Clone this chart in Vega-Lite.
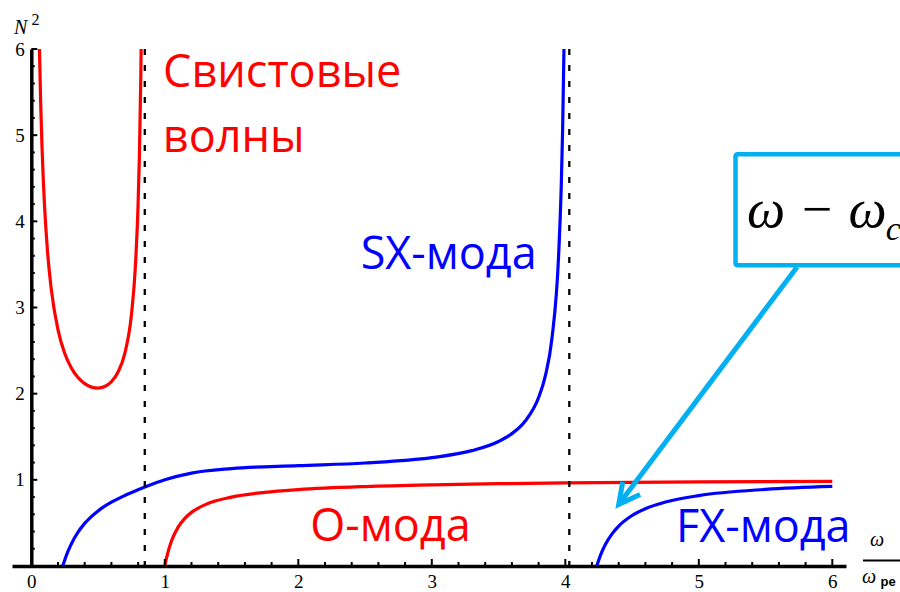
{
  "$schema": "https://vega.github.io/schema/vega-lite/v6.json",
  "width": 834,
  "height": 517,
  "autosize": {"type": "none"},
  "padding": {"left": 12, "top": 49, "right": 54, "bottom": 26},
  "background": "white",
  "config": {
    "view": {"stroke": null},
    "axis": {
      "grid": false,
      "ticks": false,
      "domainColor": "black",
      "domainWidth": 3.5,
      "labelFont": "Liberation Serif",
      "labelFontSize": 19,
      "labelColor": "black",
      "labelOverlap": false,
      "labelFlush": false,
      "title": null
    }
  },
  "datasets": {
    "curves": [
      {"mode": "W", "w": 0.058, "n2": 6.24},
      {"mode": "W", "w": 0.06, "n2": 6.07},
      {"mode": "W", "w": 0.07, "n2": 5.387},
      {"mode": "W", "w": 0.08, "n2": 4.874},
      {"mode": "W", "w": 0.09, "n2": 4.475},
      {"mode": "W", "w": 0.1, "n2": 4.157},
      {"mode": "W", "w": 0.12, "n2": 3.68},
      {"mode": "W", "w": 0.15, "n2": 3.207},
      {"mode": "W", "w": 0.2, "n2": 2.741},
      {"mode": "W", "w": 0.25, "n2": 2.47},
      {"mode": "W", "w": 0.3, "n2": 2.299},
      {"mode": "W", "w": 0.35, "n2": 2.187},
      {"mode": "W", "w": 0.4, "n2": 2.116},
      {"mode": "W", "w": 0.45, "n2": 2.076},
      {"mode": "W", "w": 0.5, "n2": 2.065},
      {"mode": "W", "w": 0.55, "n2": 2.083},
      {"mode": "W", "w": 0.6, "n2": 2.138},
      {"mode": "W", "w": 0.65, "n2": 2.251},
      {"mode": "W", "w": 0.7, "n2": 2.465},
      {"mode": "W", "w": 0.75, "n2": 2.917},
      {"mode": "W", "w": 0.78, "n2": 3.486},
      {"mode": "W", "w": 0.8, "n2": 4.201},
      {"mode": "W", "w": 0.81, "n2": 4.78},
      {"mode": "W", "w": 0.82, "n2": 5.66},
      {"mode": "W", "w": 0.825, "n2": 6.3},
      {"mode": "SX", "w": 0.2361, "n2": 0},
      {"mode": "SX", "w": 0.24, "n2": 0.0198},
      {"mode": "SX", "w": 0.25, "n2": 0.0672},
      {"mode": "SX", "w": 0.27, "n2": 0.1515},
      {"mode": "SX", "w": 0.3, "n2": 0.2568},
      {"mode": "SX", "w": 0.35, "n2": 0.3924},
      {"mode": "SX", "w": 0.4, "n2": 0.4944},
      {"mode": "SX", "w": 0.5, "n2": 0.6393},
      {"mode": "SX", "w": 0.6, "n2": 0.74},
      {"mode": "SX", "w": 0.7, "n2": 0.818},
      {"mode": "SX", "w": 0.8, "n2": 0.885},
      {"mode": "SX", "w": 0.9, "n2": 0.9457},
      {"mode": "SX", "w": 1.0, "n2": 1.0},
      {"mode": "SX", "w": 1.2, "n2": 1.0778},
      {"mode": "SX", "w": 1.5, "n2": 1.1304},
      {"mode": "SX", "w": 2.0, "n2": 1.1642},
      {"mode": "SX", "w": 2.5, "n2": 1.1956},
      {"mode": "SX", "w": 3.0, "n2": 1.2575},
      {"mode": "SX", "w": 3.3, "n2": 1.3385},
      {"mode": "SX", "w": 3.5, "n2": 1.4452},
      {"mode": "SX", "w": 3.6, "n2": 1.5362},
      {"mode": "SX", "w": 3.7, "n2": 1.6825},
      {"mode": "SX", "w": 3.8, "n2": 1.9554},
      {"mode": "SX", "w": 3.85, "n2": 2.204},
      {"mode": "SX", "w": 3.9, "n2": 2.641},
      {"mode": "SX", "w": 3.95, "n2": 3.607},
      {"mode": "SX", "w": 3.97, "n2": 4.426},
      {"mode": "SX", "w": 3.98, "n2": 5.069},
      {"mode": "SX", "w": 3.99, "n2": 6.01},
      {"mode": "O", "w": 1.0, "n2": 0},
      {"mode": "O", "w": 1.01, "n2": 0.0744},
      {"mode": "O", "w": 1.02, "n2": 0.139},
      {"mode": "O", "w": 1.05, "n2": 0.2897},
      {"mode": "O", "w": 1.1, "n2": 0.4517},
      {"mode": "O", "w": 1.15, "n2": 0.5533},
      {"mode": "O", "w": 1.2, "n2": 0.6224},
      {"mode": "O", "w": 1.3, "n2": 0.7098},
      {"mode": "O", "w": 1.5, "n2": 0.7989},
      {"mode": "O", "w": 1.75, "n2": 0.8539},
      {"mode": "O", "w": 2.0, "n2": 0.8858},
      {"mode": "O", "w": 2.5, "n2": 0.9222},
      {"mode": "O", "w": 3.0, "n2": 0.9425},
      {"mode": "O", "w": 3.5, "n2": 0.9553},
      {"mode": "O", "w": 4.0, "n2": 0.9641},
      {"mode": "O", "w": 4.5, "n2": 0.9705},
      {"mode": "O", "w": 5.0, "n2": 0.9752},
      {"mode": "O", "w": 6.0, "n2": 0.9818},
      {"mode": "FX", "w": 4.2361, "n2": 0},
      {"mode": "FX", "w": 4.25, "n2": 0.0666},
      {"mode": "FX", "w": 4.27, "n2": 0.1486},
      {"mode": "FX", "w": 4.3, "n2": 0.2485},
      {"mode": "FX", "w": 4.35, "n2": 0.373},
      {"mode": "FX", "w": 4.4, "n2": 0.4635},
      {"mode": "FX", "w": 4.5, "n2": 0.5861},
      {"mode": "FX", "w": 4.6, "n2": 0.6654},
      {"mode": "FX", "w": 4.75, "n2": 0.7424},
      {"mode": "FX", "w": 5.0, "n2": 0.8172},
      {"mode": "FX", "w": 5.5, "n2": 0.8891},
      {"mode": "FX", "w": 6.0, "n2": 0.9234}
    ],
    "res": [
      {"w": 0.85, "n2": 6, "n22": 0},
      {"w": 4.03, "n2": 6, "n22": 0}
    ],
    "xMajor": [
      {"w": 1, "n2": 0}, {"w": 2, "n2": 0}, {"w": 3, "n2": 0},
      {"w": 4, "n2": 0}, {"w": 5, "n2": 0}, {"w": 6, "n2": 0}
    ],
    "xMinor": [
      {"w": 0.2, "n2": 0}, {"w": 0.4, "n2": 0}, {"w": 0.6, "n2": 0}, {"w": 0.8, "n2": 0},
      {"w": 1.2, "n2": 0}, {"w": 1.4, "n2": 0}, {"w": 1.6, "n2": 0}, {"w": 1.8, "n2": 0},
      {"w": 2.2, "n2": 0}, {"w": 2.4, "n2": 0}, {"w": 2.6, "n2": 0}, {"w": 2.8, "n2": 0},
      {"w": 3.2, "n2": 0}, {"w": 3.4, "n2": 0}, {"w": 3.6, "n2": 0}, {"w": 3.8, "n2": 0},
      {"w": 4.2, "n2": 0}, {"w": 4.4, "n2": 0}, {"w": 4.6, "n2": 0}, {"w": 4.8, "n2": 0},
      {"w": 5.2, "n2": 0}, {"w": 5.4, "n2": 0}, {"w": 5.6, "n2": 0}, {"w": 5.8, "n2": 0}
    ],
    "yMajor": [
      {"w": 0.0225, "n2": 1}, {"w": 0.0225, "n2": 2}, {"w": 0.0225, "n2": 3},
      {"w": 0.0225, "n2": 4}, {"w": 0.0225, "n2": 5}, {"w": 0.0225, "n2": 6}
    ],
    "yMinor": [
      {"w": 0.013, "n2": 0.2}, {"w": 0.013, "n2": 0.4}, {"w": 0.013, "n2": 0.6}, {"w": 0.013, "n2": 0.8},
      {"w": 0.013, "n2": 1.2}, {"w": 0.013, "n2": 1.4}, {"w": 0.013, "n2": 1.6}, {"w": 0.013, "n2": 1.8},
      {"w": 0.013, "n2": 2.2}, {"w": 0.013, "n2": 2.4}, {"w": 0.013, "n2": 2.6}, {"w": 0.013, "n2": 2.8},
      {"w": 0.013, "n2": 3.2}, {"w": 0.013, "n2": 3.4}, {"w": 0.013, "n2": 3.6}, {"w": 0.013, "n2": 3.8},
      {"w": 0.013, "n2": 4.2}, {"w": 0.013, "n2": 4.4}, {"w": 0.013, "n2": 4.6}, {"w": 0.013, "n2": 4.8},
      {"w": 0.013, "n2": 5.2}, {"w": 0.013, "n2": 5.4}, {"w": 0.013, "n2": 5.6}, {"w": 0.013, "n2": 5.8}
    ],
    "box": [
      {"w": 5.275, "w2": 7.5, "n2": 3.49, "n22": 4.779}
    ],
    "arrow": [
      {"seg": "shaft", "ord": 0, "w": 5.736, "n2": 3.47},
      {"seg": "shaft", "ord": 1, "w": 4.4, "n2": 0.715},
      {"seg": "head", "ord": 0, "w": 4.43, "n2": 0.975},
      {"seg": "head", "ord": 1, "w": 4.4, "n2": 0.715},
      {"seg": "head", "ord": 2, "w": 4.56, "n2": 0.83}
    ],
    "fracbar": [
      {"w": 6.23, "w2": 6.8, "n2": 0.064}
    ],
    "labels": [
      {"grp": "red", "label": "Свистовые", "w": 0.987, "n2": 5.559},
      {"grp": "red", "label": "волны", "w": 0.985, "n2": 4.805},
      {"grp": "red", "label": "О-мода", "w": 2.09, "n2": 0.29},
      {"grp": "blue", "label": "SX-мода", "w": 2.467, "n2": 3.447},
      {"grp": "blue", "label": "FX-мода", "w": 4.829, "n2": 0.279},
      {"grp": "formula", "label": "ω − ω", "w": 5.361, "n2": 3.934},
      {"grp": "sub", "label": "c", "w": 6.4, "n2": 3.784},
      {"grp": "axisit", "label": "N", "w": -0.13, "n2": 6.174},
      {"grp": "axisit", "label": "ω", "w": 6.282, "n2": 0.232},
      {"grp": "axisit", "label": "ω", "w": 6.223, "n2": -0.197},
      {"grp": "sup", "label": "2", "w": 0.0015, "n2": 6.279},
      {"grp": "pe", "label": "pe", "w": 6.361, "n2": -0.232}
    ]
  },
  "encoding": {
    "x": {
      "field": "w", "type": "quantitative",
      "scale": {"domain": [-0.1446, 6.1026], "nice": false, "zero": false},
      "axis": {"orient": "bottom", "title": null, "values": [0, 1, 2, 3, 4, 5, 6], "format": ".0f", "labelPadding": 6}
    },
    "y": {
      "field": "n2", "type": "quantitative",
      "scale": {"domain": [0, 6], "nice": false, "zero": false},
      "axis": {"orient": "left", "title": null, "offset": -19.3, "values": [1, 2, 3, 4, 5, 6], "format": ".0f", "labelPadding": 7}
    }
  },
  "layer": [
    {
      "data": {"name": "curves"},
      "mark": {"type": "line", "clip": true, "strokeWidth": 3.2, "interpolate": "monotone"},
      "encoding": {
        "color": {
          "field": "mode",
          "type": "nominal",
          "scale": {"domain": ["W", "SX", "O", "FX"], "range": ["#ff0000", "#0000ff", "#ff0000", "#0000ff"]},
          "legend": null
        }
      }
    },
    {
      "data": {"name": "res"},
      "mark": {"type": "rule", "color": "black", "strokeWidth": 2.3, "strokeDash": [6, 10]},
      "encoding": {"y2": {"field": "n22"}}
    },
    {
      "data": {"name": "xMajor"},
      "mark": {"type": "tick", "orient": "vertical", "size": 14, "thickness": 2, "color": "black", "opacity": 1, "clip": true}
    },
    {
      "data": {"name": "xMinor"},
      "mark": {"type": "tick", "orient": "vertical", "size": 8, "thickness": 2, "color": "black", "opacity": 1, "clip": true}
    },
    {
      "data": {"name": "yMajor"},
      "mark": {"type": "tick", "orient": "horizontal", "size": 6, "thickness": 2, "color": "black", "opacity": 1}
    },
    {
      "data": {"name": "yMinor"},
      "mark": {"type": "tick", "orient": "horizontal", "size": 3.5, "thickness": 2, "color": "black", "opacity": 1}
    },
    {
      "data": {"name": "box"},
      "mark": {"type": "rect", "fill": "white", "stroke": "#00b0f0", "strokeWidth": 4.5, "cornerRadius": 2, "clip": false},
      "encoding": {"x2": {"field": "w2"}, "y2": {"field": "n22"}}
    },
    {
      "data": {"name": "arrow"},
      "mark": {"type": "line", "color": "#00b0f0", "strokeWidth": 5, "strokeJoin": "miter", "strokeCap": "butt"},
      "encoding": {
        "detail": {"field": "seg", "type": "nominal"},
        "order": {"field": "ord", "type": "quantitative"}
      }
    },
    {
      "data": {"name": "fracbar"},
      "mark": {"type": "rule", "color": "black", "strokeWidth": 1.8},
      "encoding": {"x2": {"field": "w2"}}
    },
    {
      "data": {"name": "labels"},
      "transform": [{"filter": "datum.grp === 'red'"}],
      "mark": {"type": "text", "align": "left", "baseline": "alphabetic", "font": "Open Sans", "fontSize": 45, "color": "#ff0000"},
      "encoding": {"text": {"field": "label"}}
    },
    {
      "data": {"name": "labels"},
      "transform": [{"filter": "datum.grp === 'blue'"}],
      "mark": {"type": "text", "align": "left", "baseline": "alphabetic", "font": "Open Sans", "fontSize": 45, "color": "#0000ff"},
      "encoding": {"text": {"field": "label"}}
    },
    {
      "data": {"name": "labels"},
      "transform": [{"filter": "datum.grp === 'formula'"}],
      "mark": {"type": "text", "align": "left", "baseline": "alphabetic", "font": "Liberation Serif", "fontStyle": "italic", "fontSize": 54, "color": "black"},
      "encoding": {"text": {"field": "label"}}
    },
    {
      "data": {"name": "labels"},
      "transform": [{"filter": "datum.grp === 'sub'"}],
      "mark": {"type": "text", "align": "left", "baseline": "alphabetic", "font": "Liberation Serif", "fontStyle": "italic", "fontSize": 34, "color": "black"},
      "encoding": {"text": {"field": "label"}}
    },
    {
      "data": {"name": "labels"},
      "transform": [{"filter": "datum.grp === 'axisit'"}],
      "mark": {"type": "text", "align": "left", "baseline": "alphabetic", "font": "Liberation Serif", "fontStyle": "italic", "fontSize": 20, "color": "black"},
      "encoding": {"text": {"field": "label"}}
    },
    {
      "data": {"name": "labels"},
      "transform": [{"filter": "datum.grp === 'sup'"}],
      "mark": {"type": "text", "align": "left", "baseline": "alphabetic", "font": "Liberation Serif", "fontSize": 16, "color": "black"},
      "encoding": {"text": {"field": "label"}}
    },
    {
      "data": {"name": "labels"},
      "transform": [{"filter": "datum.grp === 'pe'"}],
      "mark": {"type": "text", "align": "left", "baseline": "alphabetic", "font": "Liberation Sans", "fontWeight": "bold", "fontSize": 13, "color": "black"},
      "encoding": {"text": {"field": "label"}}
    }
  ]
}
